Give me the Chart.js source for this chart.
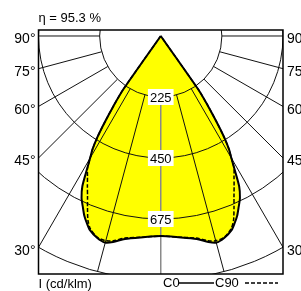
<!DOCTYPE html>
<html>
<head>
<meta charset="utf-8">
<script src="https://cdn.jsdelivr.net/npm/chart.js@4/dist/chart.umd.min.js"></script>
<style>
  html, body { margin: 0; padding: 0; background: #fff; }
</style>
</head>
<body>
<canvas id="ldc" width="301" height="291"></canvas>
<script>
// polar intensity values (cd/klm) per gamma angle, mirrored for both half-planes
const angles = [0, 5, 10, 13, 15, 17.5, 20, 21.5, 23, 24.5, 26, 27.5, 29, 30, 31, 32, 33, 34, 35, 36, 90];
const c0  = [738, 745, 760, 780, 789, 780, 762, 742, 720, 692, 665, 625, 558, 520, 488, 440, 375, 310, 240, 0, 0];
const c90 = [738, 745, 757, 775, 782, 778, 757, 731, 690, 650, 616, 584, 556, 520, 488, 440, 375, 310, 240, 0, 0];
const rings = [225, 450, 675, 900];
const ringLabels = ["225", "450", "675"];
const rayAngles = [15, 30, 45, 60, 75, 90];
const sideAngles = [90, 75, 60, 45, 30];
const sideLabels = ["90°", "75°", "60°", "45°", "30°"];
const efficiency = "η = 95.3 %";
const unitLabel = "I (cd/klm)";

const rad = a => a * Math.PI / 180;

function toXY(vals) {
  const pts = [];
  for (let i = angles.length - 1; i >= 0; i--) {
    pts.push({ x: -vals[i] * Math.sin(rad(angles[i])), y: vals[i] * Math.cos(rad(angles[i])) });
  }
  for (let i = 1; i < angles.length; i++) {
    pts.push({ x: vals[i] * Math.sin(rad(angles[i])), y: vals[i] * Math.cos(rad(angles[i])) });
  }
  return pts;
}

const FONT = '"Liberation Sans", Arial, sans-serif';

const polarGrid = {
  id: "polarGrid",
  beforeDatasetsDraw(chart) {
    const { ctx, chartArea: ca, scales: { x, y } } = chart;
    const px = (r, a, s) => [x.getPixelForValue(s * r * Math.sin(rad(a))), y.getPixelForValue(r * Math.cos(rad(a)))];
    const cx = x.getPixelForValue(0), cy = y.getPixelForValue(0);
    ctx.save();
    ctx.beginPath();
    ctx.rect(ca.left, ca.top, ca.right - ca.left, ca.bottom - ca.top);
    ctx.clip();
    ctx.strokeStyle = "#111";
    ctx.lineWidth = 1;
    rings.forEach(r => {
      ctx.beginPath();
      ctx.ellipse(cx, cy, x.getPixelForValue(r) - cx, y.getPixelForValue(r) - cy, 0, 0, 2 * Math.PI);
      ctx.stroke();
    });
    rayAngles.forEach(a => [-1, 1].forEach(s => {
      const p0 = px(rings[0], a, s), p1 = px(rings[rings.length - 1], a, s);
      ctx.beginPath(); ctx.moveTo(p0[0], p0[1]); ctx.lineTo(p1[0], p1[1]); ctx.stroke();
    }));
    ctx.strokeStyle = "#8a8a8a";
    ctx.lineWidth = 1.5;
    const g0 = px(rings[0], 0, 1), g1 = px(rings[rings.length - 1], 0, 1);
    ctx.beginPath(); ctx.moveTo(g0[0], g0[1]); ctx.lineTo(g1[0], g1[1]); ctx.stroke();
    ctx.restore();
  },
  afterDraw(chart) {
    const { ctx, chartArea: ca, scales: { x, y } } = chart;
    const cx = x.getPixelForValue(0);
    ctx.save();
    ctx.strokeStyle = "#000";
    ctx.lineWidth = 1.5;
    ctx.strokeRect(ca.left, ca.top, ca.right - ca.left, ca.bottom - ca.top);

    // ring value labels on the 0 deg axis
    ctx.font = "13px " + FONT;
    ctx.textAlign = "center";
    ctx.textBaseline = "middle";
    ringLabels.forEach((t, i) => {
      const py = y.getPixelForValue(rings[i]);
      const w = ctx.measureText(t).width + 4;
      ctx.fillStyle = "#fff";
      ctx.fillRect(cx - w / 2, py - 8, w, 16);
      ctx.fillStyle = "#000";
      ctx.fillText(t, cx, py + 1);
    });

    // angle labels where the rays meet the frame
    ctx.font = "14px " + FONT;
    const half = x.max;
    sideAngles.forEach((a, i) => {
      const r = Math.min(half / Math.sin(rad(a)), rings[rings.length - 1]);
      const py = y.getPixelForValue(r * Math.cos(rad(a))) + 3.5;
      ctx.textAlign = "right";
      ctx.fillText(sideLabels[i], ca.left - 3, py);
      ctx.textAlign = "left";
      ctx.fillText(sideLabels[i], ca.right + 4, py);
    });

    ctx.font = "13px " + FONT;
    ctx.textAlign = "left";
    ctx.fillText(efficiency, ca.left, 18);
    ctx.fillText(unitLabel, ca.left, 284);

    // legend
    ctx.fillText("C0", 163, 283);
    ctx.lineWidth = 1.5;
    ctx.beginPath(); ctx.moveTo(179, 283); ctx.lineTo(214, 283); ctx.stroke();
    ctx.fillText("C90", 215, 283);
    ctx.setLineDash([4, 2]);
    ctx.beginPath(); ctx.moveTo(245, 283); ctx.lineTo(278, 283); ctx.stroke();
    ctx.restore();
  }
};

new Chart(document.getElementById("ldc"), {
  type: "scatter",
  data: {
    datasets: [
      { label: "C0", data: toXY(c0), showLine: true, fill: "shape", backgroundColor: "#ffff00",
        borderColor: "#000", borderWidth: 2, pointRadius: 0, tension: 0.25 },
      { label: "C90", data: toXY(c90), showLine: true, fill: false,
        borderColor: "#000", borderWidth: 1.5, borderDash: [4, 2], pointRadius: 0, tension: 0.25 }
    ]
  },
  options: {
    responsive: false,
    animation: false,
    devicePixelRatio: 1,
    layout: { padding: { left: 38.5, right: 18, top: 30, bottom: 17 } },
    scales: {
      x: { type: "linear", min: -450, max: 450, display: false },
      y: { type: "linear", min: -22.1, max: 877.9, reverse: true, display: false }
    },
    plugins: {
      legend: { display: false },
      tooltip: { enabled: false },
      filler: { drawTime: "beforeDatasetsDraw" }
    }
  },
  plugins: [polarGrid]
});
</script>
</body>
</html>
